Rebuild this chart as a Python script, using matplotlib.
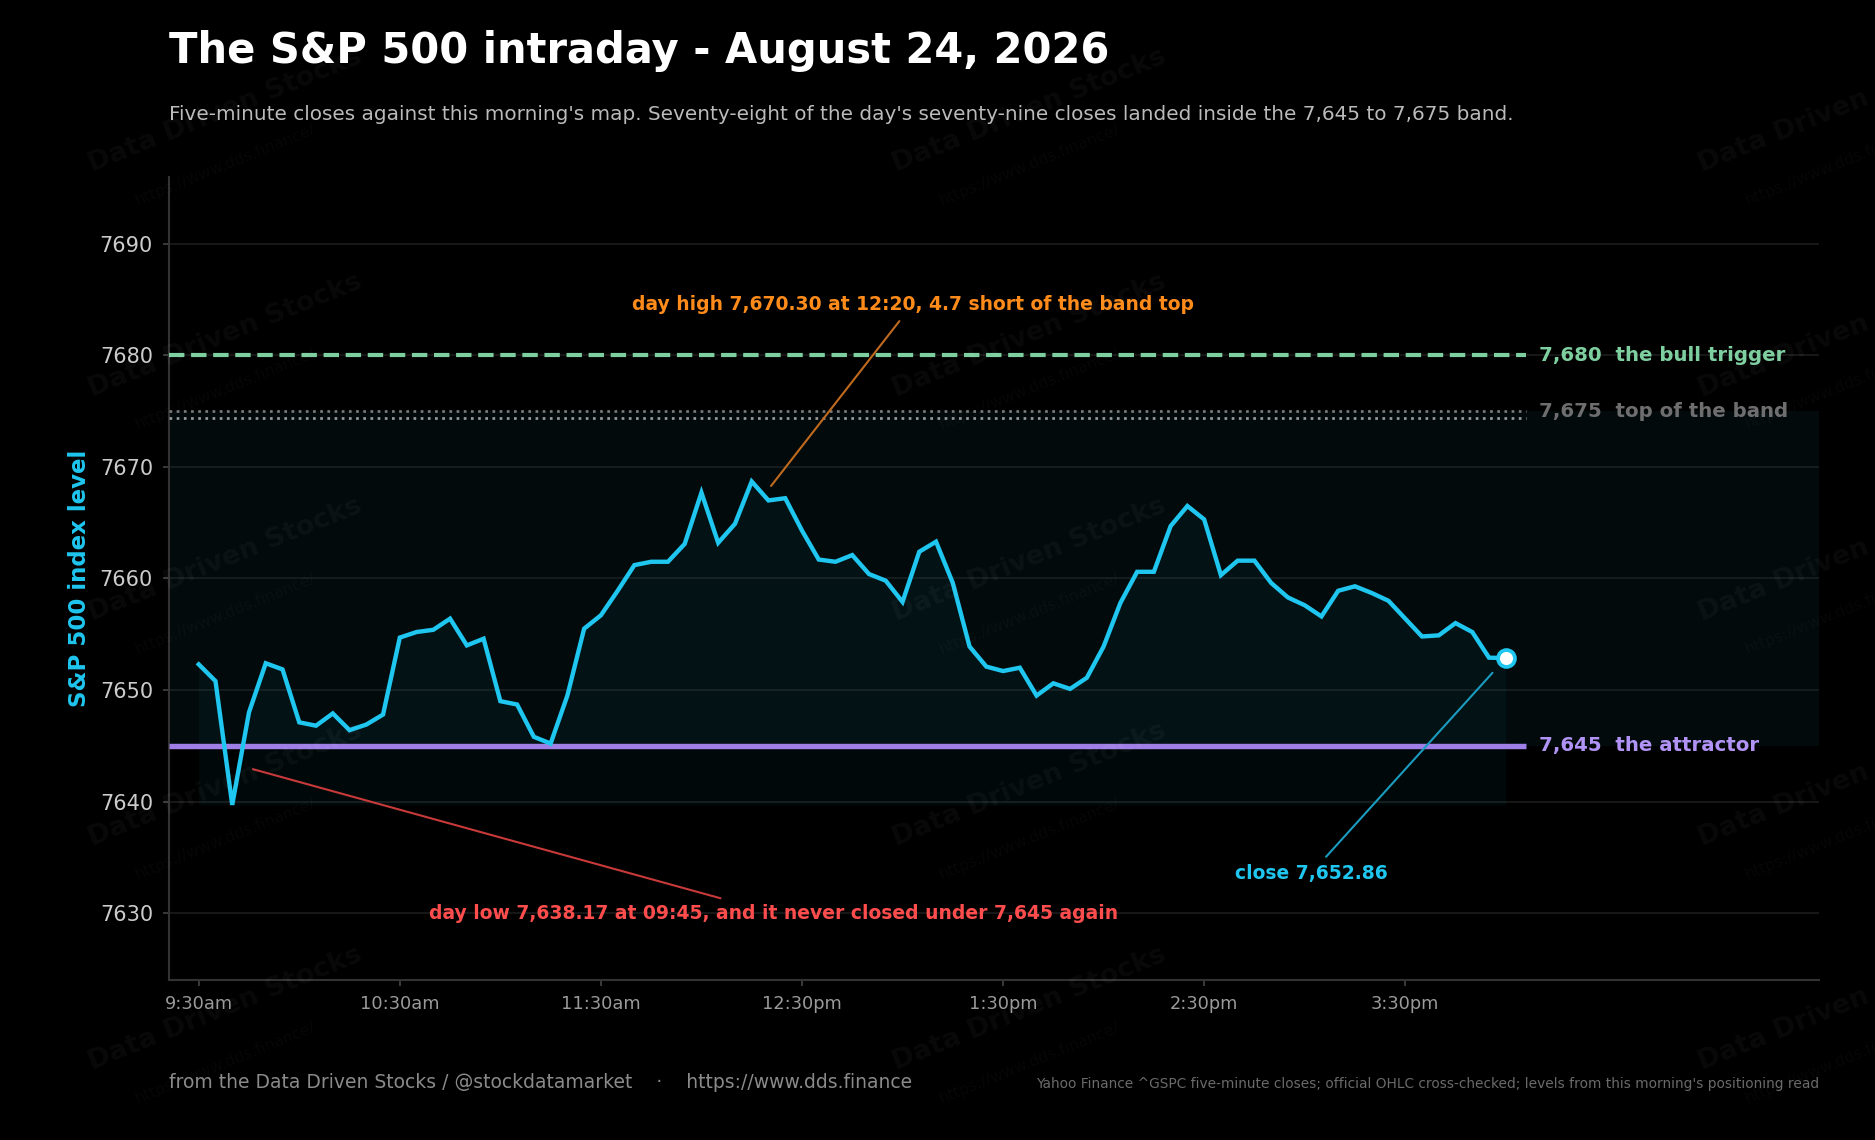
################################################################################
# S&P 500 INTRADAY - FIVE-MINUTE CLOSES AGAINST THE MORNING LEVELS
################################################################################

import numpy as np
import matplotlib as mpl
mpl.use("Agg")
from matplotlib import pyplot as plt

# DATA
closes = [7652.3, 7650.8, 7639.7, 7648.0, 7652.4, 7651.85, 7647.1, 7646.8,
          7647.9, 7646.4, 7646.9, 7647.8, 7654.7, 7655.2, 7655.4, 7656.4,
          7654.0, 7654.6, 7649.0, 7648.7, 7645.8, 7645.2, 7649.5, 7655.5,
          7656.7, 7658.9, 7661.2, 7661.5, 7661.5, 7663.1, 7667.7, 7663.2,
          7664.9, 7668.7, 7667.0, 7667.2, 7664.3, 7661.7, 7661.5, 7662.1,
          7660.4, 7659.8, 7657.9, 7662.4, 7663.3, 7659.6, 7653.9, 7652.1,
          7651.7, 7652.0, 7649.5, 7650.6, 7650.1, 7651.1, 7653.9, 7657.8,
          7660.6, 7660.6, 7664.7, 7666.5, 7665.3, 7660.3, 7661.6, 7661.6,
          7659.6, 7658.3, 7657.6, 7656.6, 7658.9, 7659.3, 7658.7, 7658.0,
          7656.4, 7654.8, 7654.9, 7656.0, 7655.2, 7652.9, 7652.86]
tick_idx = [0, 12, 24, 36, 48, 60, 72]
tick_labels = ["9:30am", "10:30am", "11:30am", "12:30pm", "1:30pm", "2:30pm", "3:30pm"]
y_ticks = [7630, 7640, 7650, 7660, 7670, 7680, 7690]

bull_trigger = 7680
band_top = 7675
band_top_inner = 7674.4
attractor = 7645

day_high, day_high_time, day_high_idx = 7670.30, "12:20", 34
day_low, day_low_time, day_low_idx = 7638.17, "09:45", 3
close_last = closes[-1]

# COLOURS
BG = "black"
CYAN = "#1fc6ef"
GREEN = "#7ecfa0"
PURPLE = "#9f7fe6"
ORANGE = "#ff8c1a"
RED = "#ff4d4d"

x = np.arange(len(closes))
y = np.array(closes)

fig = plt.figure(figsize=(12.5, 7.6), dpi=150, facecolor=BG)
ax = fig.add_axes([0.0899, 0.1404, 0.8803, 0.7043])
ax.set_facecolor(BG)
x_left, x_right = -1.8, 96.7
ax.set_xlim(x_left, x_right)
ax.set_ylim(7624, 7696)

# band + fill under the line
ax.axhspan(attractor, band_top, color="#0e3440", alpha=0.20, lw=0, zorder=1)
ax.fill_between(x, y, y.min(), color=CYAN, alpha=0.045, lw=0, zorder=1.5)

# levels
line_end = 79.2
ax.hlines(bull_trigger, x_left, line_end, colors=GREEN, lw=2.0,
          linestyles="--", zorder=3)
ax.hlines(band_top, x_left, line_end, colors="#7a7a7a", lw=1.3,
          linestyles=":", zorder=3)
ax.hlines(band_top_inner, x_left, line_end, colors="#9a9a9a", lw=1.3,
          linestyles=":", zorder=3)
ax.hlines(attractor, x_left, line_end, colors=PURPLE, lw=2.6, zorder=3)

ax.text(80, bull_trigger, "7,680  the bull trigger", color=GREEN,
        fontsize=9.5, weight="bold", va="center", ha="left")
ax.text(80, band_top, "7,675  top of the band", color="#6e6e6e",
        fontsize=9.5, weight="bold", va="center", ha="left")
ax.text(80, attractor, "7,645  the attractor", color="#b093f5",
        fontsize=9.5, weight="bold", va="center", ha="left")

# the series
ax.plot(x, y, color=CYAN, lw=2.1, zorder=4, solid_joinstyle="miter")
ax.plot(x[-1], y[-1], "o", ms=8.1, mfc="white", mec=CYAN, mew=1.8, zorder=5)

# annotations
ax.annotate("day high {:,.2f} at {}, {:.1f} short of the band top".format(
                day_high, day_high_time, band_top - day_high),
            xy=(day_high_idx, 7668.0), xytext=(42.6, 7684.6),
            ha="center", va="center", color=ORANGE, fontsize=9, weight="bold",
            arrowprops=dict(arrowstyle="-", color="#c06a1e", lw=1.0))
ax.annotate("day low {:,.2f} at {}, and it never closed under {:,} again".format(
                day_low, day_low_time, attractor),
            xy=(day_low_idx, 7643.0), xytext=(34.33, 7630.0),
            ha="center", va="center", color=RED, fontsize=9, weight="bold",
            arrowprops=dict(arrowstyle="-", color="#c83a3a", lw=1.0))
ax.annotate("close {:,.2f}".format(close_last),
            xy=(x[-1], close_last), xytext=(66.37, 7633.54),
            ha="center", va="center", color=CYAN, fontsize=9, weight="bold",
            arrowprops=dict(arrowstyle="-", color="#1a9cc0", lw=1.0,
                            shrinkB=9.5))

# axes styling
ax.set_yticks(y_ticks)
ax.set_xticks(tick_idx)
ax.set_xticklabels(tick_labels)
ax.grid(axis="y", color="#1c1c1c", lw=0.8)
ax.set_axisbelow(True)
for s in ["top", "right"]:
    ax.spines[s].set_visible(False)
for s in ["left", "bottom"]:
    ax.spines[s].set_color("#333333")
    ax.spines[s].set_linewidth(1.0)
ax.tick_params(axis="y", labelsize=10, labelcolor="#cccccc", color="#444444",
               length=3, pad=4.5)
ax.tick_params(axis="x", labelsize=8.5, labelcolor="#9a9a9a", color="#444444",
               length=3, pad=4)
ax.set_ylabel("S&P 500 index level", color=CYAN, fontsize=11, weight="bold")
ax.yaxis.set_label_coords(-0.047, 0.5)

# titles / footer
fig.text(0.0899, 0.955, "The S&P 500 intraday - August 24, 2026", color="white",
         fontsize=20, weight="bold", va="center", ha="left")
fig.text(0.0899, 0.900, "Five-minute closes against this morning's map. "
         "Seventy-eight of the day's seventy-nine closes landed inside the "
         "7,645 to 7,675 band.", color="#bbbbbb", fontsize=9.6,
         va="center", ha="left")
fig.text(0.0899, 0.050, "from the Data Driven Stocks / @stockdatamarket    \u00b7    "
         "https://www.dds.finance", color="#8a8a8a", fontsize=9,
         va="center", ha="left")
fig.text(0.9702, 0.049, "Yahoo Finance ^GSPC five-minute closes; official OHLC "
         "cross-checked; levels from this morning's positioning read",
         color="#6a6a6a", fontsize=6.6, va="center", ha="right")

# watermark
for wx in [0.12, 0.549, 0.979]:
    for wy in [0.903, 0.706, 0.509, 0.312, 0.115]:
        fig.text(wx, wy, "Data Driven Stocks", color="white", alpha=0.04,
                 fontsize=13, weight="bold", rotation=22,
                 ha="center", va="center")
        fig.text(wx, wy - 0.0475, "https://www.dds.finance/", color="white",
                 alpha=0.03, fontsize=7.5, rotation=22,
                 ha="center", va="center")

plt.savefig("out.png", dpi=150, facecolor=BG)
plt.close("all")
